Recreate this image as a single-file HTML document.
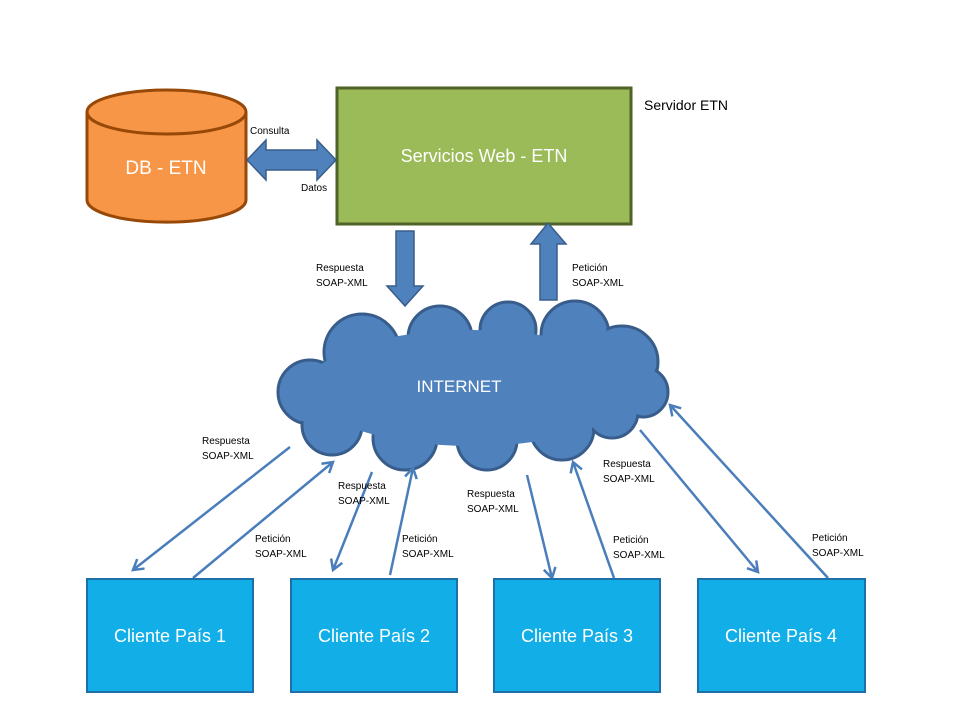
<!DOCTYPE html>
<html><head><meta charset="utf-8"><style>
body{margin:0;background:#fff;}
svg text{font-family:"Liberation Sans",sans-serif;}
</style></head><body>
<svg width="960" height="720" viewBox="0 0 960 720" xmlns="http://www.w3.org/2000/svg">
<defs>
<marker id="ah" markerWidth="14" markerHeight="14" refX="11" refY="7" orient="auto" markerUnits="userSpaceOnUse">
<path d="M1,1 L11,7 L1,13" fill="none" stroke="#4a7ebb" stroke-width="2.5"/>
</marker>
</defs>
<!-- cylinder -->
<path d="M87,112 L87,200 A79,22 0 0 0 246,200 L246,112" fill="#f79646" stroke="#984807" stroke-width="3"/>
<ellipse cx="166.5" cy="112" rx="79.5" ry="22" fill="#f79646" stroke="#984807" stroke-width="3"/>
<text x="166" y="174" font-size="19" fill="#fff" text-anchor="middle">DB - ETN</text>
<!-- green box -->
<rect x="337" y="88" width="294" height="136" fill="#9bbb59" stroke="#4f6228" stroke-width="3"/>
<text x="484" y="162" font-size="18" fill="#fff" text-anchor="middle">Servicios Web - ETN</text>
<text x="644" y="110" font-size="14" fill="#000">Servidor ETN</text>
<!-- double arrow -->
<path d="M247,160 L266,140 L266,150 L317,150 L317,140 L336,160 L317,180 L317,170 L266,170 L266,180 Z" fill="#4f81bd" stroke="#385d8a" stroke-width="1.5"/>
<text x="250" y="134" font-size="10">Consulta</text>
<text x="301" y="191" font-size="10">Datos</text>
<!-- down arrow -->
<path d="M396,231 L414,231 L414,286 L423,286 L405,306 L387,286 L396,286 Z" fill="#4f81bd" stroke="#385d8a" stroke-width="1.5"/>
<text x="316" y="271" font-size="10">Respuesta</text>
<text x="316" y="286" font-size="10">SOAP-XML</text>
<!-- up arrow -->
<path d="M540,300 L557,300 L557,244 L566,244 L548,223 L531,244 L540,244 Z" fill="#4f81bd" stroke="#385d8a" stroke-width="1.5"/>
<text x="572" y="271" font-size="10">Petición</text>
<text x="572" y="286" font-size="10">SOAP-XML</text>
<!-- cloud -->
<g fill="#4f81bd" stroke="#385d8a" stroke-width="3">
<circle cx="362" cy="352" r="38"/><circle cx="440" cy="338" r="32"/><circle cx="508" cy="330" r="28"/>
<circle cx="575" cy="335" r="34"/><circle cx="622" cy="362" r="36"/><circle cx="643" cy="392" r="25"/>
<circle cx="310" cy="392" r="32"/><circle cx="332" cy="425" r="30"/><circle cx="405" cy="438" r="32"/>
<circle cx="487" cy="440" r="30"/><circle cx="562" cy="428" r="32"/><circle cx="612" cy="412" r="26"/>
</g>
<g fill="#4f81bd">
<circle cx="362" cy="352" r="36"/><circle cx="440" cy="338" r="30"/><circle cx="508" cy="330" r="26"/>
<circle cx="575" cy="335" r="32"/><circle cx="622" cy="362" r="34"/><circle cx="643" cy="392" r="23"/>
<circle cx="310" cy="392" r="30"/><circle cx="332" cy="425" r="28"/><circle cx="405" cy="438" r="30"/>
<circle cx="487" cy="440" r="28"/><circle cx="562" cy="428" r="30"/><circle cx="612" cy="412" r="24"/>
<ellipse cx="472" cy="388" rx="165" ry="58"/>
</g>
<text x="459" y="392" font-size="17" fill="#fff" text-anchor="middle">INTERNET</text>
<!-- thin arrows -->
<g stroke="#4a7ebb" stroke-width="2.5" fill="none" marker-end="url(#ah)">
<line x1="290" y1="447" x2="133" y2="570"/>
<line x1="193" y1="578" x2="333" y2="462"/>
<line x1="372" y1="472" x2="333" y2="570"/>
<line x1="390" y1="575" x2="413" y2="468"/>
<line x1="527" y1="475" x2="552" y2="578"/>
<line x1="614" y1="578" x2="573" y2="462"/>
<line x1="640" y1="430" x2="758" y2="572"/>
<line x1="828" y1="578" x2="670" y2="405"/>
</g>
<g font-size="10">
<text x="202" y="444">Respuesta</text><text x="202" y="459">SOAP-XML</text>
<text x="255" y="542">Petición</text><text x="255" y="557">SOAP-XML</text>
<text x="338" y="489">Respuesta</text><text x="338" y="504">SOAP-XML</text>
<text x="402" y="542">Petición</text><text x="402" y="557">SOAP-XML</text>
<text x="467" y="497">Respuesta</text><text x="467" y="512">SOAP-XML</text>
<text x="613" y="543">Petición</text><text x="613" y="558">SOAP-XML</text>
<text x="603" y="467">Respuesta</text><text x="603" y="482">SOAP-XML</text>
<text x="812" y="541">Petición</text><text x="812" y="556">SOAP-XML</text>
</g>
<!-- clients -->
<g fill="#12aee8" stroke="#1f6fa8" stroke-width="2">
<rect x="87" y="579" width="166" height="113"/>
<rect x="291" y="579" width="166" height="113"/>
<rect x="494" y="579" width="166" height="113"/>
<rect x="698" y="579" width="167" height="113"/>
</g>
<g font-size="18" fill="#fff" text-anchor="middle">
<text x="170" y="642">Cliente País 1</text>
<text x="374" y="642">Cliente País 2</text>
<text x="577" y="642">Cliente País 3</text>
<text x="781" y="642">Cliente País 4</text>
</g>
</svg>
</body></html>
